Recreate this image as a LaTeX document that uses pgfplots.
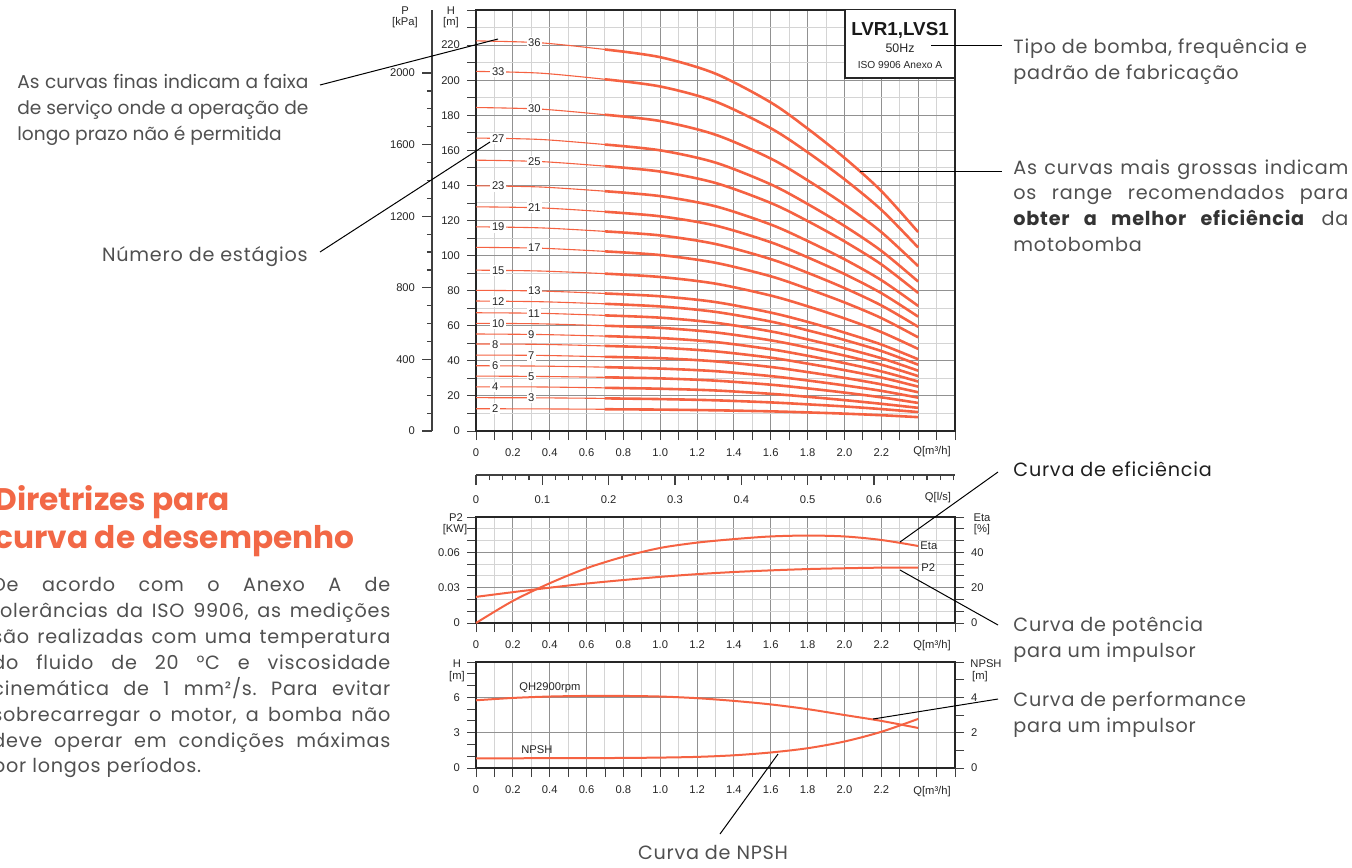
\documentclass[border=0pt]{standalone}
\usepackage{pgfplots}
\pgfplotsset{compat=1.18}
\usepackage{pgfplotstable}
\usepackage{fontspec}
\setmainfont{Poppins}
\newfontfamily\chartfont{Liberation Sans}
\definecolor{curve}{RGB}{245,98,66}
\definecolor{ttl}{RGB}{242,104,70}
\definecolor{anno}{RGB}{80,80,80}
\definecolor{gmaj}{RGB}{145,145,145}
\definecolor{gmin}{RGB}{212,212,212}
\newcommand\chf{\chartfont\fontsize{5.6}{6.5}\selectfont}
\newcommand\anf{\fontsize{9.6}{12}\selectfont\addfontfeature{LetterSpace=4}}
\newcommand\anfb{\fontsize{9.3}{12}\selectfont}
\tikzset{stg/.style={anchor=west, fill=white, inner sep=0.8pt, font=\chf, text=black!85}}
\frenchspacing

\pgfplotstableread{
Q s36 s33 s30 s27 s25 s23 s21 s19 s17 s15 s13 s12 s11 s10 s9 s8 s7 s6 s5 s4 s3 s2
0    222.4 205.0 184.4 167.0 154.4 139.8 127.8 116.4 104.7 91.7 80.2 74.1 67.4 61.4 55.3 49.6 43.3 37.2 31.3 25.2 19.0 12.7
0.35 221.3 204.0 183.5 166.2 153.6 139.1 127.2 115.8 104.2 91.2 79.8 73.7 67.1 61.1 55.0 49.4 43.1 37.0 31.1 25.1 18.9 12.6
0.7  217.5 200.5 180.3 163.3 151.0 136.7 125.0 113.8 102.4 89.7 78.4 72.5 65.9 60.0 54.1 48.5 42.3 36.4 30.6 24.6 18.6 12.4
}\thinT
\pgfplotstableread{
Q s36 s33 s30 s27 s25 s23 s21 s19 s17 s15 s13 s12 s11 s10 s9 s8 s7 s6 s5 s4 s3 s2
0.7  217.5 200.5 180.3 163.3 151.0 136.7 125.0 113.8 102.4 89.7 78.4 72.5 65.9 60.0 54.1 48.5 42.3 36.4 30.6 24.6 18.6 12.4
1.0  213.1 196.4 176.7 160.0 147.9 133.9 122.4 111.5 100.3 87.8 76.8 71.0 64.6 58.8 53.0 47.5 41.5 35.6 30.0 24.1 18.2 12.2
1.3  203.7 187.8 168.9 153.0 141.4 128.1 117.1 106.6 95.9 84.0 73.5 67.9 61.7 56.2 50.7 45.4 39.7 34.1 28.7 23.1 17.5 11.8
1.6  187.3 172.6 155.3 140.6 130.0 117.7 107.6 98.0 88.2 77.2 67.5 62.4 56.8 51.7 46.6 41.8 36.5 31.3 26.4 21.2 16.3 11.2
1.8  172.4 158.9 142.9 129.4 119.7 108.3 99.0 90.2 81.1 71.1 62.2 57.4 52.2 47.6 42.9 38.4 33.6 28.8 24.3 19.5 15.2 10.6
2.0  155.7 143.5 129.1 116.9 108.1 97.9 89.5 81.5 73.3 64.2 56.1 51.9 47.2 43.0 38.7 34.7 30.3 26.0 21.9 17.6 14.0 9.9
2.2  136.8 126.1 113.4 102.7 95.0 86.0 78.6 71.6 64.4 56.4 49.3 45.6 41.5 37.8 34.0 30.5 26.6 22.9 19.2 15.5 12.5 9.0
2.4  113.4 104.6 94.0 85.2 78.7 71.3 65.2 59.4 53.4 46.8 40.9 37.8 34.4 31.3 28.2 25.3 22.1 19.0 16.0 13.2 10.8 7.9
}\thickT

\pgfplotsset{
  base/.style={
    scale only axis, width=239.5pt, xmin=0, xmax=2.6,
    axis line style={black!85, line width=0.8pt},
    tick style={black!75, line width=0.45pt},
    tick align=outside, major tick length=4.5pt, minor tick length=4.5pt,
    xtick pos=left, ytick pos=left,
    xtick={0,0.2,0.4,0.6,0.8,1.0,1.2,1.4,1.6,1.8,2.0,2.2,2.4,2.6},
    xticklabels={0,0.2,0.4,0.6,0.8,1.0,1.2,1.4,1.6,1.8,2.0,2.2,{},{}},
    minor x tick num=1,
    scaled x ticks=false, scaled y ticks=false,
    major grid style={gmaj, line width=0.5pt},
    minor grid style={gmin, line width=0.5pt},
    tick label style={font=\chf, text=black!85},
    xticklabel style={yshift=-1pt},
    clip=false,
  },
  side/.style={
    scale only axis, width=239.5pt, xmin=0, xmax=2.6,
    axis x line=none, axis y line*=right,
    axis line style={black!85, line width=0.8pt},
    tick style={black!75, line width=0.45pt},
    tick align=outside, major tick length=4.5pt, minor tick length=4.5pt,
    scaled y ticks=false,
    tick label style={font=\chf, text=black!85},
    clip=false,
  },
}

\begin{document}
\begin{tikzpicture}
\useasboundingbox (0,0) rectangle (676pt,-433.5pt);
\clip (0,0) rectangle (676pt,-433.5pt);

% ---------- P [kPa] axis ----------
\begin{axis}[at={(216pt,-215.5pt)}, anchor=south west, scale only axis,
  width=1pt, height=210.5pt, xmin=0, xmax=1, ymin=0, ymax=2352,
  axis x line=none, axis y line*=left,
  axis line style={black!75, line width=0.8pt},
  tick style={black!75, line width=0.6pt},
  tick align=outside, major tick length=5pt, minor tick length=2.6pt,
  ytick={0,400,800,1200,1600,2000}, yticklabels={0,400,800,1200,1600,2000},
  minor y tick num=3, scaled y ticks=false,
  tick label style={font=\chf, text=black!85}]
\end{axis}

% ---------- top H-Q chart ----------
\begin{axis}[base, at={(238pt,-215.5pt)}, anchor=south west,
  height=210.5pt, ymin=0, ymax=240,
  ytick={0,20,40,60,80,100,120,140,160,180,200,220,240},
  yticklabels={0,20,40,60,80,100,120,140,160,180,200,220,{}},
  minor y tick num=1, grid=both]
\pgfplotsinvokeforeach{36,33,30,27,25,23,21,19,17,15,13,12,11,10,9,8,7,6,5,4,3,2}{
  \addplot[curve, line width=0.55pt, smooth] table[x=Q, y=s#1]{\thinT};
  \addplot[curve, line width=1.3pt, smooth] table[x=Q, y=s#1]{\thickT};
}
\node[stg] at (axis cs:0.272,221.5) {36};
\node[stg] at (axis cs:0.272,183.7) {30};
\node[stg] at (axis cs:0.272,153.8) {25};
\node[stg] at (axis cs:0.272,127.3) {21};
\node[stg] at (axis cs:0.272,104.3) {17};
\node[stg] at (axis cs:0.272,79.9) {13};
\node[stg] at (axis cs:0.272,67.1) {11};
\node[stg] at (axis cs:0.272,55.1) {9};
\node[stg] at (axis cs:0.272,43.1) {7};
\node[stg] at (axis cs:0.272,31.2) {5};
\node[stg] at (axis cs:0.272,18.9) {3};
\node[stg] at (axis cs:0.076,204.9) {33};
\node[stg] at (axis cs:0.076,166.9) {27};
\node[stg] at (axis cs:0.076,139.7) {23};
\node[stg] at (axis cs:0.076,116.3) {19};
\node[stg] at (axis cs:0.076,91.6) {15};
\node[stg] at (axis cs:0.076,74.0) {12};
\node[stg] at (axis cs:0.076,61.3) {10};
\node[stg] at (axis cs:0.076,49.5) {8};
\node[stg] at (axis cs:0.076,37.1) {6};
\node[stg] at (axis cs:0.076,25.1) {4};
\node[stg] at (axis cs:0.076,12.7) {2};
\end{axis}

% ---------- Q [l/s] axis ----------
\begin{axis}[at={(238pt,-237.5pt)}, anchor=south west, scale only axis,
  width=239.5pt, height=1pt, xmin=0, xmax=0.72222, ymin=0, ymax=1,
  axis y line=none, axis x line*=bottom,
  axis line style={black!75, line width=0.8pt},
  tick style={black!75, line width=0.6pt},
  tick align=outside, major tick length=5pt, minor tick length=2.6pt,
  scaled x ticks=false,
  xtick={0,0.1,0.2,0.3,0.4,0.5,0.6}, xticklabels={0,0.1,0.2,0.3,0.4,0.5,0.6},
  minor xtick={0.02,0.04,0.06,0.08,0.12,0.14,0.16,0.18,0.22,0.24,0.26,0.28,0.32,0.34,0.36,0.38,0.42,0.44,0.46,0.48,0.52,0.54,0.56,0.58,0.62,0.64,0.66,0.68,0.70,0.72},
  tick label style={font=\chf, text=black!85}, xticklabel style={yshift=-2pt}]
\end{axis}

% ---------- middle P2 / Eta chart ----------
\begin{axis}[base, at={(238pt,-311.5pt)}, anchor=south west,
  height=53pt, ymin=0, ymax=0.09,
  ytick={0,0.03,0.06,0.09}, yticklabels={0,0.03,0.06,{}},
  minor y tick num=2, grid=both]
\addplot[curve, line width=1pt, smooth] coordinates {
 (0,0.0222) (0.2,0.0262) (0.4,0.0300) (0.6,0.0335) (0.8,0.0365) (1.0,0.0392)
 (1.2,0.0415) (1.4,0.0433) (1.6,0.0447) (1.8,0.0458) (2.0,0.0465) (2.2,0.0470) (2.4,0.0470)};
\end{axis}
\begin{axis}[side, at={(238pt,-311.5pt)}, anchor=south west,
  height=53pt, ymin=0, ymax=60,
  ytick={0,20,40,60}, yticklabels={0,20,40,{}},
  minor ytick={6.667,13.333,26.667,33.333,46.667,53.333}]
\addplot[curve, line width=1pt, smooth] coordinates {
 (0,0) (0.2,12.5) (0.4,22.5) (0.6,31) (0.8,37.5) (1.0,42.5) (1.2,45.5)
 (1.4,47.5) (1.6,49) (1.8,49.5) (2.0,49) (2.2,47) (2.4,43.6)};
\end{axis}

% ---------- bottom QH / NPSH chart ----------
\begin{axis}[base, at={(238pt,-384pt)}, anchor=south west,
  height=53pt, ymin=0, ymax=9,
  ytick={0,3,6,9}, yticklabels={0,3,6,{}},
  minor y tick num=2, xmajorgrids, xminorgrids, ymajorgrids]
\addplot[curve, line width=1pt, smooth] coordinates {
 (0,5.75) (0.2,5.95) (0.4,6.07) (0.6,6.12) (0.8,6.12) (1.0,6.07) (1.2,5.93)
 (1.4,5.7) (1.6,5.4) (1.8,5.0) (2.0,4.5) (2.2,4.0) (2.4,3.4)};
\end{axis}
\begin{axis}[side, at={(238pt,-384pt)}, anchor=south west,
  height=53pt, ymin=0, ymax=6,
  ytick={0,2,4,6}, yticklabels={0,2,4,{}}, minor y tick num=1]
\addplot[curve, line width=1pt, smooth] coordinates {
 (0,0.55) (0.2,0.55) (0.4,0.56) (0.6,0.56) (0.8,0.57) (1.0,0.59) (1.2,0.63)
 (1.4,0.72) (1.6,0.88) (1.8,1.12) (2.0,1.5) (2.2,2.05) (2.4,2.78)};
\end{axis}

% ---------- annotations (pixel coordinates) ----------
\begin{scope}[x=0.5pt, y=-0.5pt]
 \begin{scope}[every node/.style={font=\chf, text=black!85, inner sep=0pt}]
  \node at (405,11) {P}; \node at (405,23) {[kPa]};
  \node at (451,11) {H}; \node at (451,23) {[m]};
  \node at (932,452) {Q[m³/h]};
  \node at (938,498) {Q[l/s]};
  \node at (932,646) {Q[m³/h]};
  \node at (932,792) {Q[m³/h]};
  \node at (456,518) {P2}; \node at (455,530) {[KW]};
  \node at (982,518) {Eta}; \node at (982,530) {[\%]};
  \node at (457,664) {H}; \node at (457,677) {[m]};
  \node at (986,664) {NPSH}; \node at (980,677) {[m]};
  \node[anchor=west] at (920,546) {Eta};
  \node[anchor=west] at (921,568) {P2};
  \node[anchor=west] at (519,688) {QH2900rpm};
  \node[anchor=west] at (521,750) {NPSH};
 \end{scope}
 \draw[black!85, line width=0.8pt, fill=white] (845,9.5) rectangle (955,78);
 \node[font=\chartfont\bfseries\fontsize{9.4}{10}\selectfont, text=black!90] at (900,30) {LVR1,LVS1};
 \node[font=\chartfont\fontsize{6.2}{7}\selectfont, text=black!85] at (900,48) {50Hz};
 \node[font=\chartfont\fontsize{5.1}{6}\selectfont, text=black!85] at (900,65) {ISO 9906 Anexo A};

 \begin{scope}[black, line width=0.5pt]
  \draw (498,39) -- (320,85);
  \draw (490,142) -- (320,252);
  \draw (931,45) -- (1002,45);
  \draw (860,171) -- (1002,171);
  \draw (900,542) -- (998,472);
  \draw (900,570) -- (998,625);
  \draw (873,719) -- (998,699);
  \draw (778,754) -- (720,834);
 \end{scope}

 \node[anchor=base west, inner sep=0, font=\bfseries\fontsize{15.6}{17}\selectfont, text=ttl] at (-6,510) {Diretrizes para};
 \node[anchor=base west, inner sep=0, font=\bfseries\fontsize{15.6}{17}\selectfont, text=ttl] at (-6,548) {curva de desempenho};
 \begin{scope}[every node/.style={anchor=base west, inner sep=0, font=\anf, text=anno}]
  \node at (-8,591) {\makebox[199pt][s]{De acordo com o Anexo A de}};
  \node at (-8,617) {\makebox[199pt][s]{tolerâncias da ISO 9906, as medições}};
  \node at (-8,643) {\makebox[199pt][s]{são realizadas com uma temperatura}};
  \node at (-8,669) {\makebox[199pt][s]{do fluido de 20 °C e viscosidade}};
  \node at (-8,695) {\makebox[199pt][s]{cinemática de 1 mm²/s. Para evitar}};
  \node at (-8,721) {\makebox[199pt][s]{sobrecarregar o motor, a bomba não}};
  \node at (-8,747) {\makebox[199pt][s]{deve operar em condições máximas}};
  \node at (-8,772) {por longos períodos.};
  \node[font=\anfb] at (17,88) {\makebox[145.5pt][s]{As curvas finas indicam a faixa}};
  \node[font=\anfb] at (17,114) {\makebox[145.5pt][s]{de serviço onde a operação de}};
  \node[font=\anfb] at (17,140) {longo prazo não é permitida};
  \node[anchor=base east] at (308,261) {Número de estágios};
  \node at (1013,53) {Tipo de bomba, frequência e};
  \node at (1013,79) {padrão de fabricação};
  \node at (1013,174) {\makebox[167.5pt][s]{As curvas mais grossas indicam}};
  \node at (1013,199) {\makebox[167.5pt][s]{os range recomendados para}};
  \node at (1013,225) {\makebox[167.5pt][s]{{\bfseries\color{black!80}obter a melhor eficiência} da}};
  \node at (1013,251) {motobomba};
  \node[text=black!88] at (1013,476) {Curva de eficiência};
  \node at (1013,631) {Curva de potência};
  \node at (1013,657) {para um impulsor};
  \node at (1013,706) {Curva de performance};
  \node at (1013,732) {para um impulsor};
  \node[anchor=base] at (713,859) {Curva de NPSH};
 \end{scope}
\end{scope}
\end{tikzpicture}
\end{document}
